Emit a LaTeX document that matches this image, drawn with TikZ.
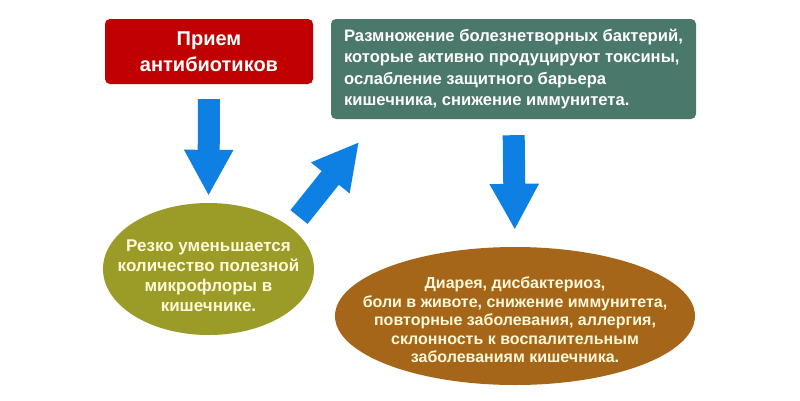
\documentclass[tikz,border=0pt]{standalone}
\usepackage{fontspec}
\setmainfont{Liberation Sans}
\usepackage{xcolor}
\usepackage{tikz}
\usetikzlibrary{arrows.meta,shapes.geometric}
\definecolor{boxred}{RGB}{192,0,0}
\definecolor{boxgreen}{RGB}{74,120,106}
\definecolor{bubolive}{RGB}{155,155,40}
\definecolor{bubbrown}{RGB}{165,102,26}
\definecolor{arrowblue}{RGB}{14,128,228}
\definecolor{creamtext}{RGB}{255,249,215}
\tikzset{
    redbox/.style={fill=boxred,rounded corners=5pt,minimum width=208pt,minimum height=65pt,inner sep=0pt,
        text=white,align=center,font=\fontsize{20}{26}\selectfont\bfseries},
    greenbox/.style={fill=boxgreen,rounded corners=5pt,minimum width=365pt,minimum height=100pt,inner sep=0pt,
        text=white,align=left,font=\fontsize{16.6}{21.5}\selectfont\bfseries},
    bubble/.style={ellipse,inner sep=0pt},
    bubtext/.style={text=creamtext,align=center,inner sep=0pt},
    bigarrow/.style={draw=arrowblue,line width=22pt,-{Triangle[width=46pt,length=46pt]}}
}
\begin{document}
\begin{tikzpicture}[x=1pt,y=-1pt]
                \fill[white] (0,0) rectangle (800,400);
                \useasboundingbox (0,0) rectangle (800,400);
                \node[redbox] (intake) at (209,51.5) {Прием\\антибиотиков};
                \node[greenbox] (growth) at (513.5,69) {Размножение болезнетворных бактерий,\\которые активно продуцируют токсины,\\ослабление защитного барьера\\кишечника, снижение иммунитета.};
                \node[bubble,fill=bubolive,minimum width=211pt,minimum height=132pt,
                    label={[bubtext,yshift=-7pt,font=\fontsize{17}{20}\selectfont\bfseries]center:{Резко уменьшается\\количество полезной\\микрофлоры в\\кишечнике.}}] (flora) at (208.5,269) {};
                \node[bubble,fill=bubbrown,minimum width=360pt,minimum height=138pt,
                    label={[bubtext,yshift=-4pt,font=\fontsize{16}{18.5}\selectfont\bfseries]center:{Диарея, дисбактериоз,\\боли в животе, снижение иммунитета,\\повторные заболевания, аллергия,\\склонность к воспалительным\\заболеваниям кишечника.}}] (effects) at (515,316) {};
                \coordinate (up1) at (299,217);
                \coordinate (up2) at (359,142);
                \draw[bigarrow,shorten <=15pt,shorten >=7pt] (intake.south) -- (flora.north);
                \draw[bigarrow] (up1) -- (up2);
                \draw[bigarrow,shorten <=16pt,shorten >=17pt] (growth.south) -- (effects.north);
            \end{tikzpicture}
\end{document}
